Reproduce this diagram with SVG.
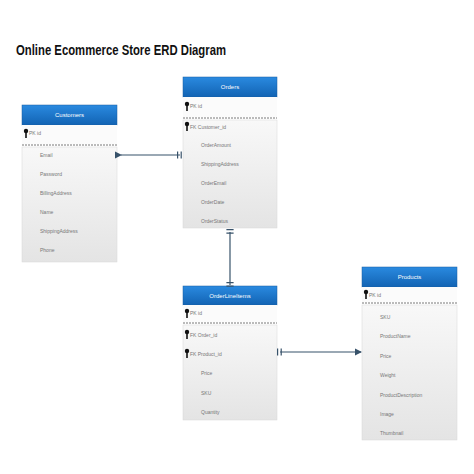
<svg xmlns="http://www.w3.org/2000/svg" width="474" height="474" viewBox="0 0 474 474">
<defs>
<linearGradient id="hdr" x1="0" y1="0" x2="0" y2="1"><stop offset="0" stop-color="#2a8ae0"/><stop offset="1" stop-color="#1263b3"/></linearGradient>
<linearGradient id="body" x1="0" y1="0" x2="0" y2="1"><stop offset="0" stop-color="#f8f8f8"/><stop offset="1" stop-color="#e4e4e4"/></linearGradient>
<g id="key"><circle cx="0" cy="-2" r="2.2" fill="#111"/><rect x="-0.8" y="-1" width="1.6" height="6" fill="#111"/></g>
<marker id="bar" viewBox="0 0 6 6" refX="3" refY="3" markerWidth="6" markerHeight="6" orient="auto"><path d="M1,0 L1,6 M4,0 L4,6" stroke="#37526a" stroke-width="1"/></marker>
<marker id="tri" viewBox="0 0 6 6" refX="5" refY="3" markerWidth="6" markerHeight="6" orient="auto"><path d="M0,0 L6,3 L0,6 Z" fill="#37526a"/></marker>
</defs>
<style>
.title{font-family:"Liberation Sans",Arial,sans-serif;font-weight:bold;font-size:14px;fill:#111}
.hdr{fill:url(#hdr);stroke:#1a5ea0;stroke-width:0.5}
.htxt{font-family:"Liberation Sans",Arial,sans-serif;font-size:6px;fill:#fff;text-anchor:middle}
.pk{fill:#fbfbfb}
.bd{fill:url(#body);stroke:#d8d8d8;stroke-width:0.5}
.dash{stroke:#777;stroke-width:1;stroke-dasharray:2,1}
.f{font-family:"Liberation Sans",Arial,sans-serif;font-size:5px;fill:#777}
.conn{stroke:#37526a;stroke-width:1.2;fill:none}
</style>
<text class="title" x="16" y="55" textLength="210" lengthAdjust="spacingAndGlyphs">Online Ecommerce Store ERD Diagram</text>

<g id="customers">
<rect class="hdr" x="22" y="105" width="95" height="20"/>
<text class="htxt" x="69.5" y="117">Customers</text>
<rect class="pk" x="22" y="125" width="95" height="19"/>
<use href="#key" x="26" y="133"/>
<text class="f" x="29" y="135">PK  id</text>
<line class="dash" x1="22" y1="145" x2="117" y2="145"/>
<rect class="bd" x="22" y="147" width="95" height="115"/>
<text class="f" x="40" y="157">Email</text>
<text class="f" x="40" y="176">Password</text>
<text class="f" x="40" y="195">BillingAddress</text>
<text class="f" x="40" y="214">Name</text>
<text class="f" x="40" y="233">ShippingAddress</text>
<text class="f" x="40" y="252">Phone</text>
</g>

<g id="orders">
<rect class="hdr" x="183" y="77" width="94" height="20"/>
<text class="htxt" x="230" y="89">Orders</text>
<rect class="pk" x="183" y="97" width="94" height="20"/>
<use href="#key" x="187" y="106"/>
<text class="f" x="190" y="108">PK  id</text>
<line class="dash" x1="183" y1="118" x2="277" y2="118"/>
<rect class="bd" x="183" y="120" width="94" height="108"/>
<use href="#key" x="187" y="126"/>
<text class="f" x="190" y="129">FK  Customer_id</text>
<text class="f" x="201" y="147">OrderAmount</text>
<text class="f" x="201" y="166">ShippingAddress</text>
<text class="f" x="201" y="185">OrderEmail</text>
<text class="f" x="201" y="204">OrderDate</text>
<text class="f" x="201" y="223">OrderStatus</text>
</g>

<g id="orderlineitems">
<rect class="hdr" x="183" y="286" width="94" height="19"/>
<text class="htxt" x="230" y="298">OrderLineItems</text>
<rect class="pk" x="183" y="305" width="94" height="17"/>
<use href="#key" x="187" y="313"/>
<text class="f" x="190" y="315">PK  id</text>
<line class="dash" x1="183" y1="323" x2="277" y2="323"/>
<rect class="bd" x="183" y="325" width="94" height="95"/>
<use href="#key" x="187" y="334"/>
<text class="f" x="190" y="337">FK  Order_id</text>
<use href="#key" x="187" y="353"/>
<text class="f" x="190" y="356">FK  Product_id</text>
<text class="f" x="201" y="375">Price</text>
<text class="f" x="201" y="395">SKU</text>
<text class="f" x="201" y="414">Quantity</text>
</g>

<g id="products">
<rect class="hdr" x="362" y="267" width="95" height="20"/>
<text class="htxt" x="409.5" y="279">Products</text>
<rect class="pk" x="362" y="287" width="95" height="15"/>
<use href="#key" x="366" y="294"/>
<text class="f" x="369" y="297">PK  id</text>
<line class="dash" x1="362" y1="303" x2="457" y2="303"/>
<rect class="bd" x="362" y="305" width="95" height="135"/>
<text class="f" x="380" y="319">SKU</text>
<text class="f" x="380" y="338">ProductName</text>
<text class="f" x="380" y="358">Price</text>
<text class="f" x="380" y="377">Weight</text>
<text class="f" x="380" y="397">ProductDescription</text>
<text class="f" x="380" y="416">Image</text>
<text class="f" x="380" y="435">Thumbnail</text>
</g>

<g id="connectors">
<line class="conn" x1="121" y1="155" x2="180" y2="155" marker-start="url(#tri)" marker-end="url(#bar)"/>
<line class="conn" x1="230" y1="232" x2="230" y2="285" marker-start="url(#bar)" marker-end="url(#bar)"/>
<line class="conn" x1="280" y1="352" x2="361" y2="352" marker-start="url(#bar)" marker-end="url(#tri)"/>
</g>
</svg>
